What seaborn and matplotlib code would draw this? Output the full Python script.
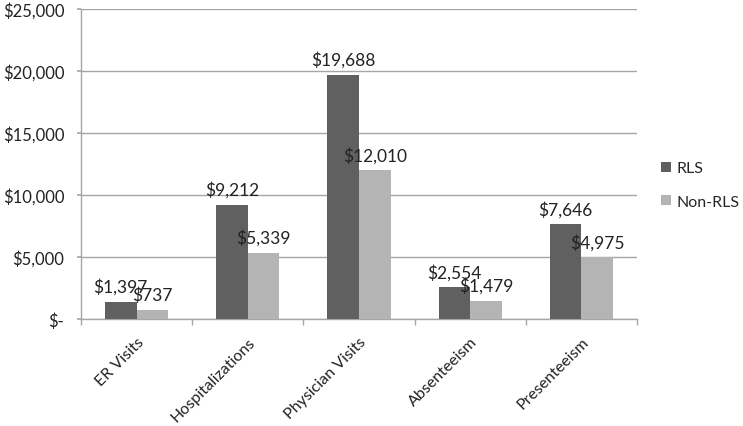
import matplotlib
matplotlib.use("Agg")
import matplotlib.pyplot as plt
import seaborn as sns
import pandas as pd

categories = ["ER Visits", "Hospitalizations", "Physician Visits", "Absenteeism", "Presenteeism"]
rls = [1397, 9212, 19688, 2554, 7646]
non_rls = [737, 5339, 12010, 1479, 4975]
series_names = ["RLS", "Non-RLS"]
yticks = [0, 5000, 10000, 15000, 20000, 25000]
ytick_labels = ["$-", "$5,000", "$10,000", "$15,000", "$20,000", "$25,000"]

df = pd.DataFrame({
    "Category": categories * 2,
    "Series": [series_names[0]] * len(categories) + [series_names[1]] * len(categories),
    "Value": rls + non_rls,
})

sns.set_theme(style="white")
plt.rcParams["font.family"] = ["Lato", "DejaVu Sans"]

fig = plt.figure(figsize=(7.43, 4.27), dpi=100)
ax = fig.add_axes([81/743, 1-320/427, (637-81)/743, (320-10)/427])

palette = {"RLS": "#606060", "Non-RLS": "#b4b4b4"}
sns.barplot(data=df, x="Category", y="Value", hue="Series", palette=palette,
            width=0.57, ax=ax, saturation=1, errorbar=None, zorder=3, linewidth=0)

ax.set_ylim(0, 25000)
ax.set_xlim(-0.5, len(categories) - 0.5)
ax.set_yticks(yticks)
ax.set_yticklabels(ytick_labels, fontsize=12, color="#222222")
ax.yaxis.grid(True, color="#a6a6a6", linewidth=1, zorder=0)
ax.set_axisbelow(True)
ax.set_xlabel("")
ax.set_ylabel("")

for c in ax.containers:
    labels = [f"${v:,.0f}" for v in c.datavalues]
    ax.bar_label(c, labels=labels, padding=5, fontsize=12.5, color="#222222")

for s in ["top", "right"]:
    ax.spines[s].set_visible(False)
for s in ["left", "bottom"]:
    ax.spines[s].set_color("#a6a6a6")
    ax.spines[s].set_linewidth(1)

ax.tick_params(axis="y", which="both", left=True, length=3, color="#a6a6a6", pad=9)
ax.set_xticks(range(len(categories)))
ax.set_xticklabels(categories, rotation=45, ha="right", rotation_mode="anchor", fontsize=11.5, color="#222222")
ax.tick_params(axis="x", which="major", bottom=False, pad=5)
ax.set_xticks([i + 0.5 for i in range(-1, len(categories))], minor=True)
ax.tick_params(axis="x", which="minor", bottom=True, length=4, color="#a6a6a6")

handles, labs = ax.get_legend_handles_labels()
leg = ax.legend(handles, labs, loc="center left", bbox_to_anchor=(661/743, 1-186/427),
                bbox_transform=fig.transFigure, frameon=False, fontsize=11.5,
                borderaxespad=0, borderpad=0,
                handlelength=0.6, handleheight=0.6, handletextpad=0.4, labelspacing=1.2)

fig.savefig("out.png", dpi=100)
